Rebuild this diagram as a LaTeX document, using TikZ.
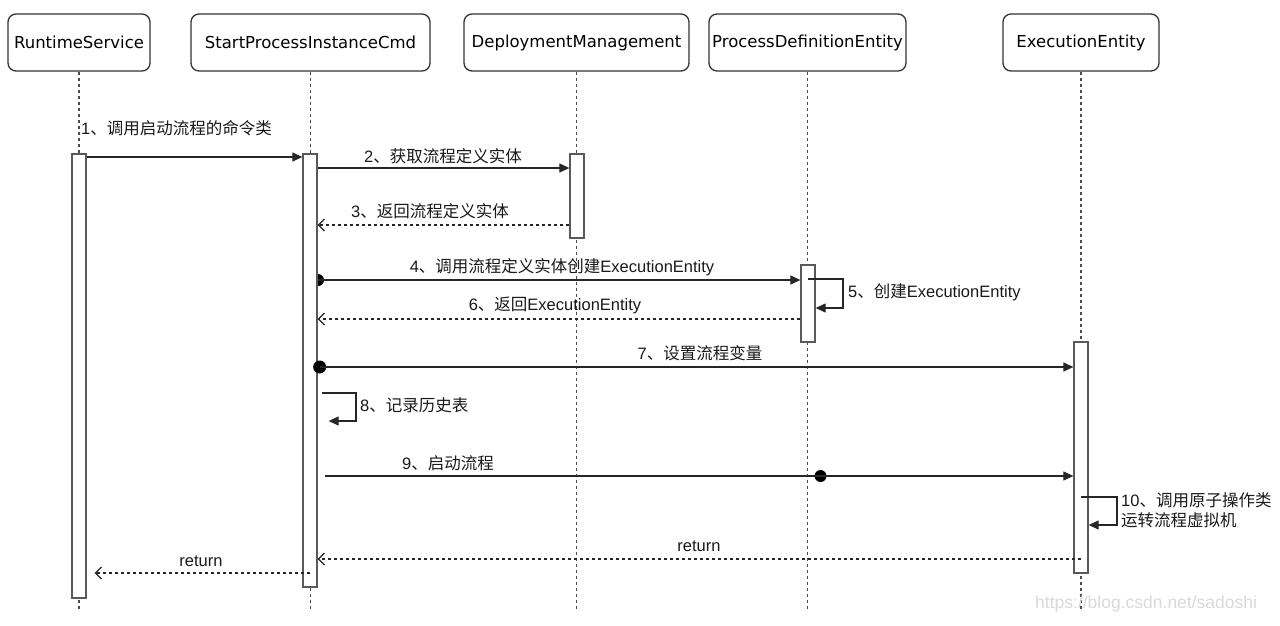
\documentclass[tikz,border=0pt]{standalone}
\usepackage{fontspec}
\setmainfont{Liberation Sans}
\newfontfamily\hdrfont{DejaVu Sans}
\newfontfamily\cjk{Noto Sans CJK SC}
\usetikzlibrary{arrows.meta,calc}
\newcommand\zh[1]{{\cjk #1}}
\begin{document}
\begin{tikzpicture}[x=1pt,y=-1pt,
 hdr/.style={draw=black!80, line width=1.3pt, rounded corners=8pt, fill=white, minimum height=57pt, inner sep=0pt, font=\hdrfont\fontsize{16.5}{20}\selectfont},
 life/.style={draw=black!70, line width=1.3pt, dash pattern=on 3pt off 3pt},
 act/.style={draw=black!65, line width=1.3pt, fill=white, minimum width=14pt, inner sep=0pt},
 msg/.style={draw=black!85, line width=1.2pt, -{Triangle[length=10pt,width=9pt]}},
 ret/.style={draw=black!85, line width=1.2pt, dash pattern=on 3.5pt off 2.5pt, -{Straight Barb[length=6pt,width=12pt]}},
 lbl/.style={font=\fontsize{16.5}{20}\selectfont, text=black!90, inner sep=0pt},
 dot/.style={circle, fill=black, inner sep=0pt, minimum size=#1},
]
\useasboundingbox (0,0) rectangle (1280,625);
% headers
\node[hdr, minimum width=142pt] (rs) at (79,42.5) {RuntimeService};
\node[hdr, minimum width=239pt] (sp) at (310.5,42.5) {StartProcessInstanceCmd};
\node[hdr, minimum width=225pt] (dm) at (576.5,42.5) {DeploymentManagement};
\node[hdr, minimum width=197pt] (pd) at (807.5,42.5) {ProcessDefinitionEntity};
\node[hdr, minimum width=156pt] (ee) at (1081,42.5) {ExecutionEntity};
% lifelines
\draw[life] (rs.south) -- (rs.south |- 0,610);
\draw[life] (sp.south) -- (sp.south |- 0,610);
\draw[life] (dm.south) -- (dm.south |- 0,610);
\draw[life] (pd.south) -- (pd.south |- 0,610);
\draw[life] (ee.south) -- (ee.south |- 0,610);
% activation coordinates
\coordinate (c1) at (79,376);
\coordinate (c2) at (310,370.5);
\coordinate (c3) at (577,196);
\coordinate (c4) at (808,303.5);
\coordinate (c5) at (1081,457.5);
% message 4 (its start dot half hidden under the activation box)
\node[dot=12pt] (d4) at (318,280) {};
\node[act, minimum height=84pt] (a3) at (c3) {};
\node[act, minimum height=77pt] (a4) at (c4) {};
\draw[msg] (d4.center) -- (a4.west |- d4.center);
% activation boxes
\node[act, minimum height=444pt] (a1) at (c1) {};
\node[act, minimum height=433pt] (a2) at (c2) {};
\node[act, minimum height=231pt] (a5) at (c5) {};
% messages
\draw[msg] (a1.east |- 0,157) -- (a2.west |- 0,157);
\draw[msg] (a2.east |- 0,168) -- (a3.west |- 0,168);
\draw[ret] (a3.west |- 0,225) -- (a2.east |- 0,225);
\draw[msg] (a4.center |- 0,279) -- (843,279) -- (843,308) -- (a4.east |- 0,308);
\draw[ret] (a4.west |- 0,319) -- (a2.east |- 0,319);
\node[dot=13pt] (d7) at ($(a2.east |- 0,367)+(2,0)$) {};
\draw[msg] (d7.center) -- (a5.west |- d7.center);
\draw[msg] ($(a2.east |- 0,393)+(4,0)$) -- (356,393) -- (356,421) -- ($(a2.east |- 0,421)+(11,0)$);
\node[dot=12pt] (d9) at ($(pd.south |- 0,476)+(13,0)$) {};
\draw[msg] ($(a2.east |- 0,476)+(7,0)$) -- (a5.west |- 0,476);
\draw[msg] (a5.center |- 0,497) -- (1117,497) -- (1117,525) -- (a5.east |- 0,525);
\draw[ret] (a5.center |- 0,559) -- (a2.east |- 0,559);
\draw[ret] (a2.center |- 0,573) -- ($(a1.east |- 0,573)+(8,0)$);
% labels
\node[lbl, anchor=west] (l1) at (81,128) {1\zh{、调用启动流程的命令类}};
\node[lbl] (l2) at (443,156) {2\zh{、获取流程定义实体}};
\node[lbl] (l3) at (430,211) {3\zh{、返回流程定义实体}};
\node[lbl] (l4) at (562,267) {4\zh{、调用流程定义实体创建}ExecutionEntity};
\node[lbl, anchor=west] (l5) at (848,292) {5\zh{、创建}ExecutionEntity};
\node[lbl] (l6) at (555,305) {6\zh{、返回}ExecutionEntity};
\node[lbl] (l7) at (700,353) {7\zh{、设置流程变量}};
\node[lbl, anchor=west] (l8) at (360,405) {8\zh{、记录历史表}};
\node[lbl] (l9) at (448,463) {9\zh{、启动流程}};
\node[lbl, anchor=west, align=left] (l10) at (1121,510) {10\zh{、调用原子操作类}\\\zh{运转流程虚拟机}};
\node[lbl] (r1) at (699,546) {return};
\node[lbl] (r2) at (201,561) {return};
\node[font=\fontsize{17.5}{20}\selectfont, text=black!15, anchor=west, inner sep=0pt] (wm) at (1035,604) {https://blog.csdn.net/sadoshi};
\end{tikzpicture}
\end{document}
